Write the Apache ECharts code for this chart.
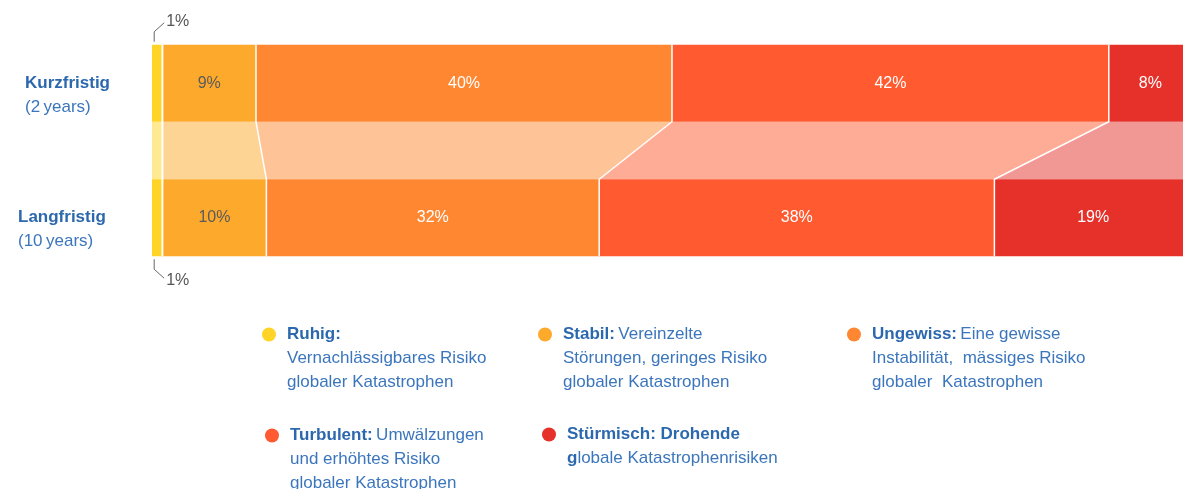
<!DOCTYPE html>
<html>
<head>
<meta charset="utf-8">
<script src="https://cdn.jsdelivr.net/npm/echarts@6/dist/echarts.min.js"></script>
<style>
  html, body { margin: 0; padding: 0; background: #fff; }
  #main { width: 1183px; height: 489px; }
</style>
</head>
<body>
<div id="main"></div>
<script>
const categories = ['Kurzfristig', 'Langfristig']
const categorySub = ['(2\u2009years)', '(10\u2009years)']
const levels = ['Ruhig', 'Stabil', 'Ungewiss', 'Turbulent', 'Stürmisch']
const shortTerm = [1, 9, 40, 42, 8]
const longTerm = [1, 10, 32, 38, 19]
const colors = ['#ffd426', '#fda92c', '#ff8731', '#ff5a30', '#e5312a']
const labelColors = ['#5a5a5a', '#5a5a5a', '#fff', '#fff', '#fff']
const legendText = [
  '{b|Ruhig:}\n{r|Vernachlässigbares Risiko}\n{r|globaler Katastrophen}',
  '{b|Stabil:} {r|Vereinzelte}\n{r|Störungen, geringes Risiko}\n{r|globaler Katastrophen}',
  '{b|Ungewiss:} {r|Eine gewisse}\n{r|Instabilität,  mässiges Risiko}\n{r|globaler  Katastrophen}',
  '{b|Turbulent:} {r|Umwälzungen}\n{r|und erhöhtes Risiko}\n{r|globaler Katastrophen}',
  '{b|Stürmisch: Drohende}\n{b|g}{r|lobale Katastrophenrisiken}'
]
const legendPos = [[257, 321], [533, 321], [842, 321], [260, 422], [537, 421]]

const font = '"Liberation Sans", Arial, sans-serif'
const barWidth = 77

// cumulative start/end of each segment in both bars
const connectors = []
let a = 0, b = 0
levels.forEach((name, i) => {
  connectors.push([a, a + shortTerm[i], b, b + longTerm[i], i])
  a += shortTerm[i]
  b += longTerm[i]
})

const chart = echarts.init(document.getElementById('main'), null, { renderer: 'canvas' })

const series = levels.map((name, i) => ({
  name,
  type: 'bar',
  stack: 'total',
  barWidth,
  data: [shortTerm[i], longTerm[i]],
  itemStyle: { color: colors[i] },
  emphasis: { disabled: true },
  label: {
    show: i > 0,
    position: 'inside',
    formatter: p => p.value + '%',
    color: labelColors[i],
    fontSize: 16,
    fontFamily: font
  }
}))

series.push({
  type: 'custom',
  name: 'connectors',
  z: 3,
  silent: true,
  data: connectors,
  encode: { x: [0, 1, 2, 3] },
  renderItem: (params, api) => {
    const i = api.value(4)
    const p0 = api.coord([api.value(0), 0])
    const p1 = api.coord([api.value(1), 0])
    const q0 = api.coord([api.value(2), 1])
    const q1 = api.coord([api.value(3), 1])
    const yTop0 = p0[1] - barWidth / 2
    const yTop1 = p0[1] + barWidth / 2
    const yBot0 = q0[1] - barWidth / 2
    const yBot1 = q0[1] + barWidth / 2
    const children = [{
      type: 'polygon',
      shape: { points: [[p0[0], yTop1], [p1[0], yTop1], [q1[0], yBot0], [q0[0], yBot0]] },
      style: { fill: colors[i], opacity: 0.5 }
    }]
    if (i > 0) {
      children.push({
        type: 'polyline',
        shape: { points: [[p0[0], yTop0], [p0[0], yTop1], [q0[0], yBot0], [q0[0], yBot1]] },
        style: { stroke: '#fff', lineWidth: i === 1 ? 2 : 1.5, fill: null }
      })
    } else {
      // outside labels for the tiny first segment
      const xm = (p0[0] + p1[0]) / 2 - 3
      const lbl = '16px ' + font
      children.push({
        type: 'polyline',
        shape: { points: [[xm, yTop0 - 3], [xm, yTop0 - 13], [xm + 10, yTop0 - 22]] },
        style: { stroke: '#666', lineWidth: 1, fill: null }
      }, {
        type: 'text',
        style: { text: api.value(1) - api.value(0) + '%', x: xm + 12, y: yTop0 - 23, fill: '#555',
          font: lbl, verticalAlign: 'middle' }
      }, {
        type: 'polyline',
        shape: { points: [[xm, yBot1 + 3], [xm, yBot1 + 13], [xm + 10, yBot1 + 22]] },
        style: { stroke: '#666', lineWidth: 1, fill: null }
      }, {
        type: 'text',
        style: { text: api.value(3) - api.value(2) + '%', x: xm + 12, y: yBot1 + 24, fill: '#555',
          font: lbl, verticalAlign: 'middle' }
      })
    }
    return { type: 'group', children }
  }
})

const legends = levels.map((name, i) => {
  const lines = legendText[i].split('\n').length
  return {
    data: [name],
    left: legendPos[i][0],
    top: legendPos[i][1],
    orient: 'vertical',
    icon: 'circle',
    itemWidth: 14,
    itemHeight: 14,
    selectedMode: false,
    formatter: () => legendText[i],
    textStyle: {
      padding: [(lines - 1) * 24, 0, 0, 6],
      rich: {
        b: { fontFamily: font, fontSize: 17, fontWeight: 'bold', color: '#2c68ae', lineHeight: 24 },
        r: { fontFamily: font, fontSize: 17, color: '#3b76bd', lineHeight: 24 }
      }
    }
  }
})

const labelRich = {}
categories.forEach((c, i) => {
  const pad = [0, 0, 0, i === 0 ? 7 : 0]
  labelRich['k' + i] = { fontFamily: font, fontSize: 17, fontWeight: 'bold', color: '#2c68ae', lineHeight: 24, padding: pad }
  labelRich['s' + i] = { fontFamily: font, fontSize: 17, color: '#3b76bd', lineHeight: 24, padding: pad }
})

chart.setOption({
  animation: false,
  grid: { left: 152, top: 16, height: 269, width: 1040, outerBoundsMode: 'none' },
  xAxis: { type: 'value', min: 0, max: 100, show: false },
  yAxis: {
    type: 'category',
    data: categories,
    inverse: true,
    axisLine: { show: false },
    axisTick: { show: false },
    splitLine: { show: false },
    axisLabel: {
      align: 'left',
      margin: 134,
      padding: [24, 0, 0, 0],
      formatter: (v, idx) => `{k${idx}|${v}}\n{s${idx}|${categorySub[idx]}}`,
      rich: labelRich
    }
  },
  legend: legends,
  series
})
</script>
</body>
</html>
